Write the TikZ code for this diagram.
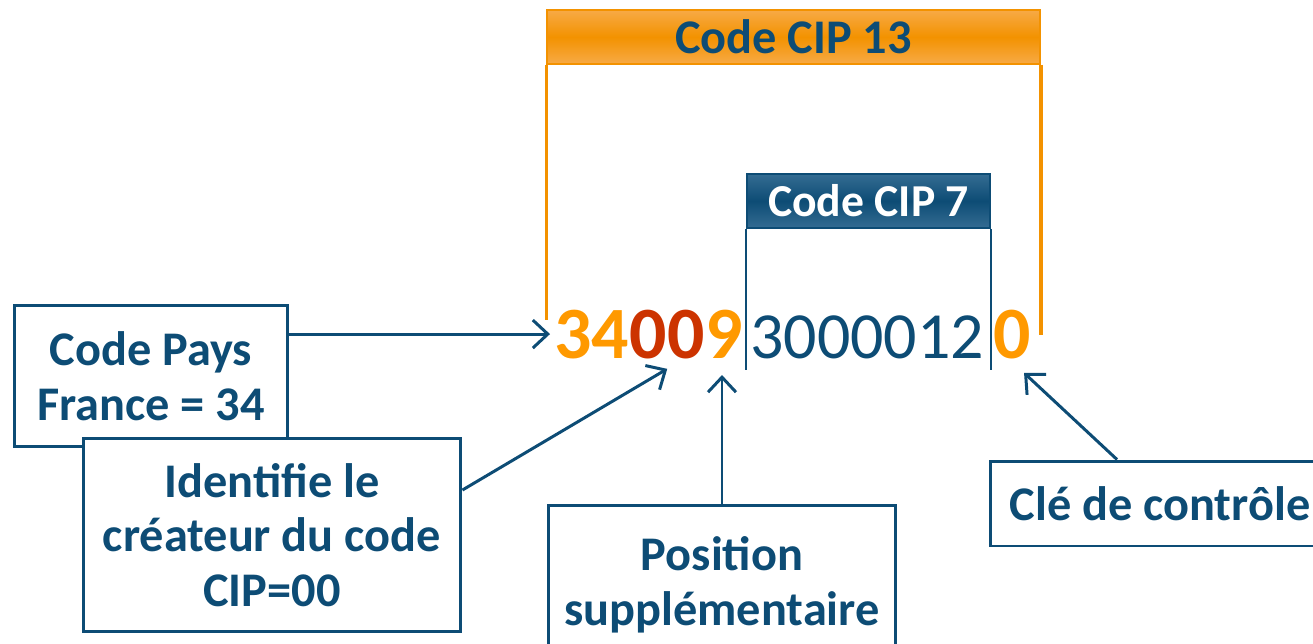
\documentclass[tikz,border=0pt]{standalone}
\usepackage{fontspec}
\setmainfont{Carlito}
\usetikzlibrary{arrows.meta,positioning}

\definecolor{cipblue}{RGB}{13,76,117}
\definecolor{cipbluelight}{RGB}{52,108,146}
\definecolor{ciporange}{RGB}{243,146,0}
\definecolor{ciporangelight}{RGB}{247,170,70}
\definecolor{digitorange}{RGB}{255,153,0}
\definecolor{digitred}{RGB}{204,51,0}

\begin{document}
\begin{tikzpicture}[x=0.02cm,y=-0.02cm,
  infobox/.style={draw=cipblue,line width=1.7pt,fill=white,align=center,text=cipblue,
    font=\fontsize{27.5}{31}\selectfont\bfseries,inner sep=0pt},
  header13/.style={draw=ciporange,line width=1pt,top color=ciporangelight,bottom color=ciporangelight,
    middle color=ciporange,text=cipblue,font=\fontsize{27.5}{31}\selectfont\bfseries,
    minimum width=9.86cm,minimum height=1.08cm,inner sep=0pt},
  header7/.style={draw=cipblue,line width=1pt,top color=cipbluelight,bottom color=cipbluelight,
    middle color=cipblue,text=white,font=\fontsize{26}{31}\selectfont\bfseries,
    minimum width=4.86cm,minimum height=1.08cm,inner sep=0pt},
  digits/.style={anchor=base west,inner sep=0pt,font=\fontsize{37.5}{46}\selectfont},
  keydigits/.style={anchor=base west,inner sep=0pt,font=\fontsize{42}{50}\selectfont\bfseries},
  pointer/.style={draw=cipblue,line width=1.7pt,-{Straight Barb[length=0.3cm,width=0.56cm]}},
  bracket13/.style={draw=ciporange,line width=1.9pt},
  bracket7/.style={draw=cipblue,line width=1pt}]
\clip (0,0) rectangle (1313,643);

\node[header13] (cip13) at (793.5,37) {Code CIP 13};
\node[header7] (cip7) at (868.5,201) {Code CIP 7};

\node[keydigits,text=digitorange] (d34) at (554,358) {34};
\node[keydigits,text=digitred] (d00) at (d34.base east) {00};
\node[keydigits,text=digitorange] (d9) at (d00.base east) {9};
\node[digits,text=cipblue] (d7) at (750,358) {3000012};
\node[keydigits,text=digitorange] (dkey) at (993,358) {0};

\draw[bracket13] (cip13.south west) -- (cip13.south west |- 0,320);
\draw[bracket13] (cip13.south east) -- (cip13.south east |- 0,335);
\draw[bracket7] (cip7.south west) -- (cip7.south west |- 0,370);
\draw[bracket7] (cip7.south east) -- (cip7.south east |- 0,370);

\node[infobox,minimum width=5.48cm,minimum height=2.84cm] (pays) at (151,376) {Code Pays\\France = 34};
\node[infobox,minimum width=7.56cm,minimum height=3.88cm] (ident) at (272,535) {Identifie le\\créateur du code\\CIP=00};
\node[infobox,minimum width=6.96cm,minimum height=3.2cm] (pos) at (722,585) {Position\\supplémentaire};
\node[infobox,minimum width=6.8cm,minimum height=1.7cm] (cle) at (1160,503.5) {Clé de contrôle};

\draw[pointer] (pays.east |- d34.west) -- ([xshift=-0.08cm]d34.west);
\draw[pointer] ([yshift=0.9cm]ident.east) -- ([yshift=-0.2cm]d00.south);
\draw[pointer] (pos.north) -- (pos.north |- 0,375);
\draw[pointer] ([xshift=-0.86cm]cle.north) -- ([xshift=0.24cm,yshift=-0.28cm]dkey.south);

\end{tikzpicture}
\end{document}
